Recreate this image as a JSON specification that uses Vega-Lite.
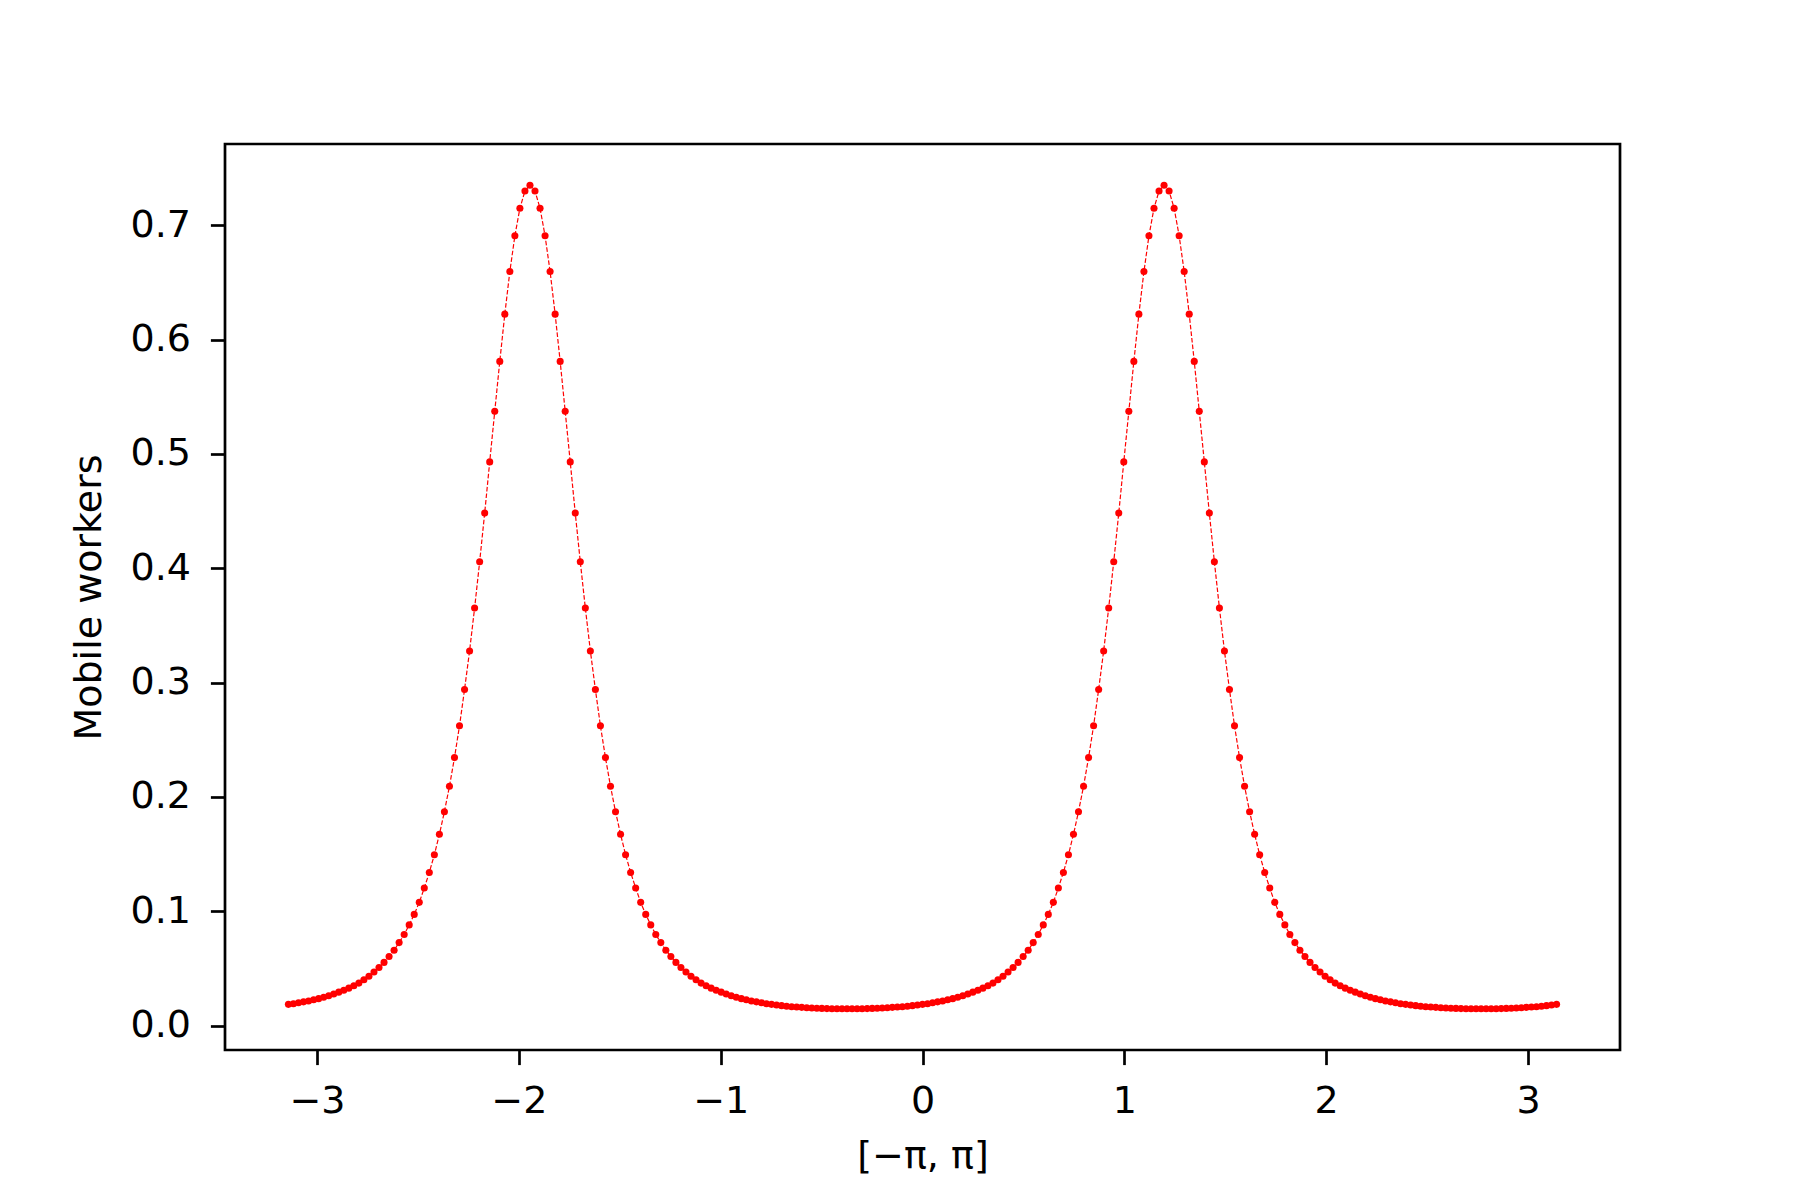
{
  "$schema": "https://vega.github.io/schema/vega-lite/v6.json",
  "width": 1395,
  "height": 906,
  "autosize": {"type": "none"},
  "padding": {"left": 225, "top": 144, "right": 180, "bottom": 150},
  "background": "white",
  "data": {"values": [
    {"x":-3.1416,"y":0.0186},{"x":-3.1167,"y":0.0192},{"x":-3.0917,"y":0.0200},{"x":-3.0668,"y":0.0208},{"x":-3.0419,"y":0.0216},
    {"x":-3.0169,"y":0.0226},{"x":-2.9920,"y":0.0236},{"x":-2.9671,"y":0.0248},{"x":-2.9421,"y":0.0261},{"x":-2.9172,"y":0.0276},
    {"x":-2.8923,"y":0.0293},{"x":-2.8673,"y":0.0310},{"x":-2.8424,"y":0.0328},{"x":-2.8175,"y":0.0349},{"x":-2.7925,"y":0.0372},
    {"x":-2.7676,"y":0.0402},{"x":-2.7427,"y":0.0432},{"x":-2.7177,"y":0.0469},{"x":-2.6928,"y":0.0508},{"x":-2.6679,"y":0.0553},
    {"x":-2.6429,"y":0.0605},{"x":-2.6180,"y":0.0660},{"x":-2.5931,"y":0.0726},{"x":-2.5681,"y":0.0797},{"x":-2.5432,"y":0.0881},
    {"x":-2.5183,"y":0.0973},{"x":-2.4933,"y":0.1078},{"x":-2.4684,"y":0.1204},{"x":-2.4435,"y":0.1340},{"x":-2.4185,"y":0.1495},
    {"x":-2.3936,"y":0.1673},{"x":-2.3687,"y":0.1871},{"x":-2.3437,"y":0.2094},{"x":-2.3188,"y":0.2344},{"x":-2.2939,"y":0.2622},
    {"x":-2.2689,"y":0.2940},{"x":-2.2440,"y":0.3277},{"x":-2.2191,"y":0.3652},{"x":-2.1941,"y":0.4057},{"x":-2.1692,"y":0.4482},
    {"x":-2.1443,"y":0.4930},{"x":-2.1193,"y":0.5372},{"x":-2.0944,"y":0.5809},{"x":-2.0695,"y":0.6222},{"x":-2.0445,"y":0.6595},
    {"x":-2.0196,"y":0.6907},{"x":-1.9947,"y":0.7148},{"x":-1.9697,"y":0.7299},{"x":-1.9448,"y":0.7350},{"x":-1.9199,"y":0.7299},
    {"x":-1.8949,"y":0.7148},{"x":-1.8700,"y":0.6907},{"x":-1.8451,"y":0.6595},{"x":-1.8201,"y":0.6222},{"x":-1.7952,"y":0.5809},
    {"x":-1.7703,"y":0.5372},{"x":-1.7453,"y":0.4930},{"x":-1.7204,"y":0.4482},{"x":-1.6955,"y":0.4057},{"x":-1.6705,"y":0.3652},
    {"x":-1.6456,"y":0.3277},{"x":-1.6207,"y":0.2940},{"x":-1.5957,"y":0.2622},{"x":-1.5708,"y":0.2344},{"x":-1.5459,"y":0.2094},
    {"x":-1.5209,"y":0.1871},{"x":-1.4960,"y":0.1673},{"x":-1.4711,"y":0.1495},{"x":-1.4461,"y":0.1340},{"x":-1.4212,"y":0.1204},
    {"x":-1.3963,"y":0.1078},{"x":-1.3713,"y":0.0973},{"x":-1.3464,"y":0.0881},{"x":-1.3215,"y":0.0797},{"x":-1.2965,"y":0.0726},
    {"x":-1.2716,"y":0.0660},{"x":-1.2467,"y":0.0605},{"x":-1.2217,"y":0.0553},{"x":-1.1968,"y":0.0508},{"x":-1.1719,"y":0.0469},
    {"x":-1.1469,"y":0.0432},{"x":-1.1220,"y":0.0402},{"x":-1.0971,"y":0.0372},{"x":-1.0721,"y":0.0349},{"x":-1.0472,"y":0.0328},
    {"x":-1.0223,"y":0.0310},{"x":-0.9973,"y":0.0293},{"x":-0.9724,"y":0.0276},{"x":-0.9475,"y":0.0261},{"x":-0.9225,"y":0.0248},
    {"x":-0.8976,"y":0.0236},{"x":-0.8727,"y":0.0226},{"x":-0.8477,"y":0.0216},{"x":-0.8228,"y":0.0208},{"x":-0.7979,"y":0.0200},
    {"x":-0.7729,"y":0.0192},{"x":-0.7480,"y":0.0186},{"x":-0.7231,"y":0.0180},{"x":-0.6981,"y":0.0175},{"x":-0.6732,"y":0.0170},
    {"x":-0.6483,"y":0.0166},{"x":-0.6233,"y":0.0163},{"x":-0.5984,"y":0.0160},{"x":-0.5735,"y":0.0157},{"x":-0.5485,"y":0.0154},
    {"x":-0.5236,"y":0.0152},{"x":-0.4987,"y":0.0151},{"x":-0.4737,"y":0.0149},{"x":-0.4488,"y":0.0148},{"x":-0.4239,"y":0.0148},
    {"x":-0.3989,"y":0.0147},{"x":-0.3740,"y":0.0147},{"x":-0.3491,"y":0.0147},{"x":-0.3241,"y":0.0148},{"x":-0.2992,"y":0.0148},
    {"x":-0.2743,"y":0.0149},{"x":-0.2493,"y":0.0151},{"x":-0.2244,"y":0.0152},{"x":-0.1995,"y":0.0154},{"x":-0.1745,"y":0.0157},
    {"x":-0.1496,"y":0.0160},{"x":-0.1247,"y":0.0163},{"x":-0.0997,"y":0.0166},{"x":-0.0748,"y":0.0170},{"x":-0.0499,"y":0.0175},
    {"x":-0.0249,"y":0.0180},{"x":0.0000,"y":0.0186},{"x":0.0249,"y":0.0192},{"x":0.0499,"y":0.0200},{"x":0.0748,"y":0.0208},
    {"x":0.0997,"y":0.0216},{"x":0.1247,"y":0.0226},{"x":0.1496,"y":0.0236},{"x":0.1745,"y":0.0248},{"x":0.1995,"y":0.0261},
    {"x":0.2244,"y":0.0276},{"x":0.2493,"y":0.0293},{"x":0.2743,"y":0.0310},{"x":0.2992,"y":0.0328},{"x":0.3241,"y":0.0349},
    {"x":0.3491,"y":0.0372},{"x":0.3740,"y":0.0402},{"x":0.3989,"y":0.0432},{"x":0.4239,"y":0.0469},{"x":0.4488,"y":0.0508},
    {"x":0.4737,"y":0.0553},{"x":0.4987,"y":0.0605},{"x":0.5236,"y":0.0660},{"x":0.5485,"y":0.0726},{"x":0.5735,"y":0.0797},
    {"x":0.5984,"y":0.0881},{"x":0.6233,"y":0.0973},{"x":0.6483,"y":0.1078},{"x":0.6732,"y":0.1204},{"x":0.6981,"y":0.1340},
    {"x":0.7231,"y":0.1495},{"x":0.7480,"y":0.1673},{"x":0.7729,"y":0.1871},{"x":0.7979,"y":0.2094},{"x":0.8228,"y":0.2344},
    {"x":0.8477,"y":0.2622},{"x":0.8727,"y":0.2940},{"x":0.8976,"y":0.3277},{"x":0.9225,"y":0.3652},{"x":0.9475,"y":0.4057},
    {"x":0.9724,"y":0.4482},{"x":0.9973,"y":0.4930},{"x":1.0223,"y":0.5372},{"x":1.0472,"y":0.5809},{"x":1.0721,"y":0.6222},
    {"x":1.0971,"y":0.6595},{"x":1.1220,"y":0.6907},{"x":1.1469,"y":0.7148},{"x":1.1719,"y":0.7299},{"x":1.1968,"y":0.7350},
    {"x":1.2217,"y":0.7299},{"x":1.2467,"y":0.7148},{"x":1.2716,"y":0.6907},{"x":1.2965,"y":0.6595},{"x":1.3215,"y":0.6222},
    {"x":1.3464,"y":0.5809},{"x":1.3713,"y":0.5372},{"x":1.3963,"y":0.4930},{"x":1.4212,"y":0.4482},{"x":1.4461,"y":0.4057},
    {"x":1.4711,"y":0.3652},{"x":1.4960,"y":0.3277},{"x":1.5209,"y":0.2940},{"x":1.5459,"y":0.2622},{"x":1.5708,"y":0.2344},
    {"x":1.5957,"y":0.2094},{"x":1.6207,"y":0.1871},{"x":1.6456,"y":0.1673},{"x":1.6705,"y":0.1495},{"x":1.6955,"y":0.1340},
    {"x":1.7204,"y":0.1204},{"x":1.7453,"y":0.1078},{"x":1.7703,"y":0.0973},{"x":1.7952,"y":0.0881},{"x":1.8201,"y":0.0797},
    {"x":1.8451,"y":0.0726},{"x":1.8700,"y":0.0660},{"x":1.8949,"y":0.0605},{"x":1.9199,"y":0.0553},{"x":1.9448,"y":0.0508},
    {"x":1.9697,"y":0.0469},{"x":1.9947,"y":0.0432},{"x":2.0196,"y":0.0402},{"x":2.0445,"y":0.0372},{"x":2.0695,"y":0.0349},
    {"x":2.0944,"y":0.0328},{"x":2.1193,"y":0.0310},{"x":2.1443,"y":0.0293},{"x":2.1692,"y":0.0276},{"x":2.1941,"y":0.0261},
    {"x":2.2191,"y":0.0248},{"x":2.2440,"y":0.0236},{"x":2.2689,"y":0.0226},{"x":2.2939,"y":0.0216},{"x":2.3188,"y":0.0208},
    {"x":2.3437,"y":0.0200},{"x":2.3687,"y":0.0192},{"x":2.3936,"y":0.0186},{"x":2.4185,"y":0.0180},{"x":2.4435,"y":0.0175},
    {"x":2.4684,"y":0.0170},{"x":2.4933,"y":0.0166},{"x":2.5183,"y":0.0163},{"x":2.5432,"y":0.0160},{"x":2.5681,"y":0.0157},
    {"x":2.5931,"y":0.0154},{"x":2.6180,"y":0.0152},{"x":2.6429,"y":0.0151},{"x":2.6679,"y":0.0149},{"x":2.6928,"y":0.0148},
    {"x":2.7177,"y":0.0148},{"x":2.7427,"y":0.0147},{"x":2.7676,"y":0.0147},{"x":2.7925,"y":0.0147},{"x":2.8175,"y":0.0148},
    {"x":2.8424,"y":0.0148},{"x":2.8673,"y":0.0149},{"x":2.8923,"y":0.0151},{"x":2.9172,"y":0.0152},{"x":2.9421,"y":0.0154},
    {"x":2.9671,"y":0.0157},{"x":2.9920,"y":0.0160},{"x":3.0169,"y":0.0163},{"x":3.0419,"y":0.0166},{"x":3.0668,"y":0.0170},
    {"x":3.0917,"y":0.0175},{"x":3.1167,"y":0.0180},{"x":3.1416,"y":0.0186}
  ]},
  "encoding": {
    "x": {
      "field": "x", "type": "quantitative",
      "scale": {"domain": [-3.4558, 3.4558], "nice": false, "zero": false},
      "axis": {
        "title": "[−π, π]",
        "values": [-3, -2, -1, 0, 1, 2, 3],
        "format": "d",
        "labelPadding": 18,
        "titleX": 697.5,
        "titleY": 106,
        "titleAlign": "center",
        "titleBaseline": "middle"
      }
    },
    "y": {
      "field": "y", "type": "quantitative",
      "scale": {"domain": [-0.0213, 0.7710], "nice": false, "zero": false},
      "axis": {
        "title": "Mobile workers",
        "values": [0, 0.1, 0.2, 0.3, 0.4, 0.5, 0.6, 0.7],
        "format": ".1f",
        "labelPadding": 20,
        "titleX": -136,
        "titleY": 453,
        "titleAngle": -90,
        "titleAlign": "center",
        "titleBaseline": "middle"
      }
    }
  },
  "layer": [
    {"mark": {"type": "line", "color": "#ff0000", "strokeWidth": 1.2, "strokeDash": [4.6, 2]}},
    {"mark": {"type": "circle", "color": "#ff0000", "opacity": 1, "size": 50}}
  ],
  "config": {
    "view": {"stroke": "#000000", "strokeWidth": 2.7},
    "axis": {
      "domain": false,
      "grid": false,
      "ticks": true,
      "tickColor": "#000000",
      "tickWidth": 2.7,
      "tickSize": 14.6,
      "labelColor": "#000000",
      "labelFont": "DejaVu Sans",
      "labelFontSize": 38,
      "titleColor": "#000000",
      "titleFont": "DejaVu Sans",
      "titleFontSize": 38,
      "titleFontWeight": "normal",
      "labelFlush": false,
      "labelOverlap": false
    }
  }
}
